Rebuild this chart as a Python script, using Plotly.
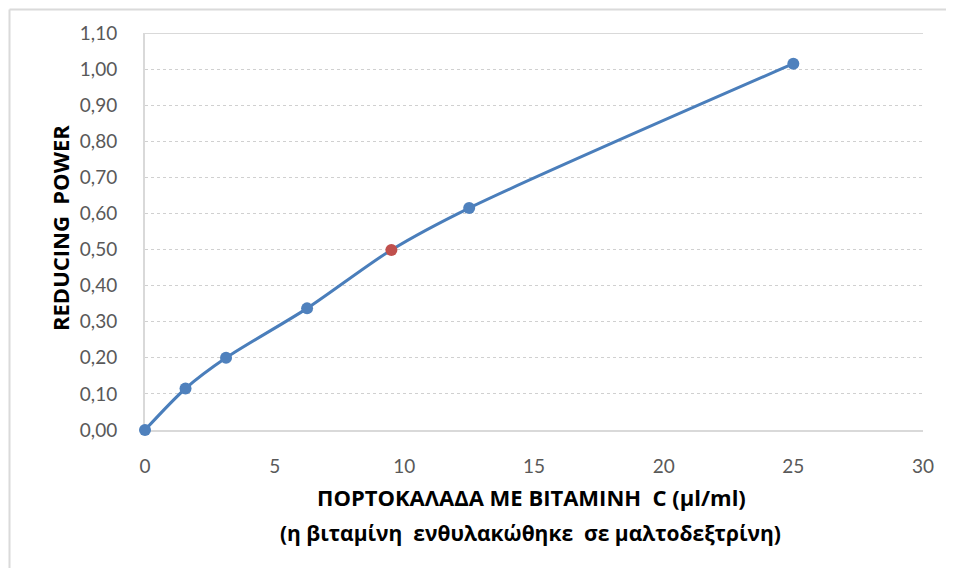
import plotly.graph_objects as go

x_vals = [0, 1.5625, 3.125, 6.25, 9.5, 12.5, 25]
y_vals = [0.00, 0.115, 0.20, 0.337, 0.499, 0.615, 1.015]
point_colors = ["#4F81BD", "#4F81BD", "#4F81BD", "#4F81BD", "#C0504D", "#4F81BD", "#4F81BD"]
x_ticks = [0, 5, 10, 15, 20, 25, 30]
y_ticks = [0.0, 0.1, 0.2, 0.3, 0.4, 0.5, 0.6, 0.7, 0.8, 0.9, 1.0, 1.1]
x_title_lines = ["ΠΟΡΤΟΚΑΛΑΔΑ ΜΕ ΒΙΤΑΜΙΝΗ  C (μl/ml)", "(η βιταμίνη  ενθυλακώθηκε  σε μαλτοδεξτρίνη)"]
y_title = "REDUCING  POWER"

OFF = 8  # page body offset
W, H = 954 - 2 * OFF, 576 - 2 * OFF
# target plot area on screen: x 145..923, y 33..430
L = 145 - OFF
T = 33 - OFF
R = W - (923 - OFF)
B = H - (430 - OFF)
pw, ph = W - L - R, H - T - B


def px_x(sx):
    return (sx - OFF - L) / pw


def px_y(sy):
    return 1 - (sy - OFF - T) / ph


fig = go.Figure()
fig.add_trace(go.Scatter(
    x=x_vals, y=y_vals, mode="lines+markers",
    line=dict(color="#4A7EBB", width=3, shape="spline", smoothing=0.8),
    marker=dict(color=point_colors, size=12, line=dict(width=0)),
    cliponaxis=False, showlegend=False,
))

tick_font = dict(family="Lato, 'Open Sans', sans-serif", size=19, color="#595959")
fig.update_layout(
    width=W, height=H,
    margin=dict(l=L, r=R, t=T, b=B),
    paper_bgcolor="white", plot_bgcolor="white",
    separators=",.",
    xaxis=dict(range=[0, 30], tickvals=x_ticks, showgrid=False, zeroline=False,
               showline=True, linecolor="#D9D9D9", linewidth=2, layer="below traces",
               tickfont=tick_font, ticks="", ticklabelstandoff=18),
    yaxis=dict(range=[0, 1.1], tickvals=y_ticks, tickformat=".2f",
               showgrid=True, gridcolor="#D0D0D0", griddash="dot", gridwidth=1,
               zeroline=False, showline=True, linecolor="#D9D9D9", linewidth=2, layer="below traces",
               tickfont=tick_font, ticks="", ticklabelstandoff=22),
)

# solid top line at max
fig.add_shape(type="line", xref="x", yref="y", x0=0, x1=30, y0=1.1, y1=1.1,
              line=dict(color="#D9D9D9", width=2), layer="below")

# outer border (left and top), as close to the canvas edge as possible
bx = px_x(OFF + 1.5)
by = px_y(OFF + 1.5)
fig.add_shape(type="line", xref="paper", yref="paper", x0=bx, x1=bx, y0=by, y1=px_y(600),
              line=dict(color="#DADADA", width=2))
fig.add_shape(type="line", xref="paper", yref="paper", x0=bx, x1=px_x(980), y0=by, y1=by,
              line=dict(color="#DADADA", width=2))

title_font = dict(family="'Open Sans', 'Noto Sans', sans-serif", size=22, color="#000000")
fig.add_annotation(text="<b>" + x_title_lines[0] + "</b>", xref="paper", yref="paper",
                   x=px_x(531), y=px_y(497), showarrow=False, font=title_font,
                   xanchor="center", yanchor="middle")
fig.add_annotation(text="<b>" + x_title_lines[1] + "</b>", xref="paper", yref="paper",
                   x=px_x(530), y=px_y(533), showarrow=False, font=dict(title_font, size=21),
                   xanchor="center", yanchor="middle")
fig.add_annotation(text="<b>" + y_title + "</b>", xref="paper", yref="paper",
                   x=px_x(60), y=px_y(228), showarrow=False, font=title_font,
                   textangle=-90, xanchor="center", yanchor="middle")

fig.write_html("out.html")
